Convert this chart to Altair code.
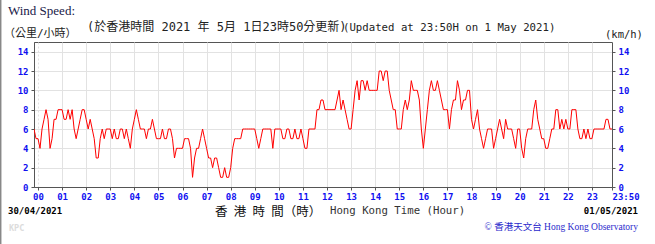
import altair as alt
import pandas as pd

# ---- data: 10-minute mean wind speed (km/h) read every 5 minutes ----
prev_day = [6, 5]  # 23:50, 23:55 on 30/04
h00 = [5, 4, 6, 7, 8, 7, 4, 5, 7, 7, 8, 8]
h01 = [8, 7, 7, 8, 7, 8, 6, 5, 6, 7, 8, 8]
h02 = [7, 6, 7, 6, 5, 3, 3, 5, 6, 5, 6, 6]
h03 = [6, 5, 6, 5, 5, 6, 6, 5, 6, 5, 4, 6]
h04 = [7, 8, 7, 6, 6, 6, 5, 6, 6, 7, 6, 5]
h05 = [5, 5, 6, 5, 5, 6, 6, 5, 3, 4, 4, 4]
h06 = [4, 5, 5, 5, 4, 1, 3, 4, 4, 5, 6, 5]
h07 = [4, 3, 3, 2, 3, 3, 2, 1, 1, 2, 1, 1]
h08 = [2, 4, 5, 5, 5, 5, 6, 6, 6, 6, 6, 6]
h09 = [6, 5, 4, 5, 6, 6, 6, 6, 6, 4, 6, 6]
h10 = [6, 6, 5, 5, 6, 6, 5, 5, 6, 5, 5, 6]
h11 = [5, 4, 4, 6, 6, 6, 6, 8, 8, 9, 9, 8]
h12 = [8, 8, 8, 8, 8, 9, 10, 8, 9, 8, 7, 6]
h13 = [6, 8, 10, 11, 9, 11, 11, 10, 11, 10, 10, 10]
h14 = [10, 10, 12, 12, 11, 12, 12, 10, 9, 8, 8, 6]
h15 = [6, 6, 8, 9, 8, 9, 11, 10, 10, 10, 9, 6]
h16 = [4, 6, 8, 10, 11, 10, 10, 11, 10, 9, 8, 8]
h17 = [8, 6, 8, 9, 9, 11, 10, 8, 9, 9, 10, 10]
h18 = [7, 6, 7, 8, 6, 5, 4, 5, 6, 6, 6, 4]
h19 = [5, 6, 7, 6, 5, 7, 6, 6, 6, 5, 4, 6]
h20 = [6, 4, 3, 5, 6, 6, 6, 8, 9, 7, 6, 5]
h21 = [5, 4, 4, 5, 6, 6, 8, 8, 6, 7, 6, 7]
h22 = [6, 6, 8, 8, 8, 6, 5, 5, 6, 5, 6, 5]
h23 = [5, 6, 6, 6, 6, 6, 6, 7, 7, 6, 6]  # up to 23:50

hour_lists = [h00, h01, h02, h03, h04, h05, h06, h07, h08, h09, h10, h11,
              h12, h13, h14, h15, h16, h17, h18, h19, h20, h21, h22, h23]
speeds = list(prev_day)
for hl in hour_lists:
    speeds += hl
minutes = list(range(-10, 1431, 5))
df = pd.DataFrame({"minute": minutes[:len(speeds)], "speed": speeds})

y_ticks = [0, 2, 4, 6, 8, 10, 12, 14]
x_ticks = [h * 60 for h in range(24)] + [1430]

title_en = "Wind Speed:"
unit_zh = "（公里/小時）"
update_zh = "(於香港時間 2021 年 5月 1日23時50分更新)"
update_en = "(Updated at 23:50H on 1 May 2021)"
unit_en = "(km/h)"
date_start = "30/04/2021"
date_end = "01/05/2021"
xtitle_zh = "香\u2002港\u2002時\u2002間（時）"
xtitle_en = "Hong Kong Time (Hour)"
credit = "© 香港天文台 Hong Kong Observatory"
initials = "KPC"

W, H = 578, 145
MONO = "DejaVu Sans Mono, Noto Sans CJK TC"
BLUE = "#1010f0"

xscale = alt.Scale(domain=[-10, 1430], nice=False, zero=False)
yscale = alt.Scale(domain=[0, 15], nice=False, zero=True)

label_expr = "datum.value >= 1430 ? '23:50' : format(datum.value / 60, '02d')"


def x_axis():
    return alt.Axis(values=x_ticks, labelExpr=label_expr, title=None, grid=True,
                    gridColor="#e2e2e2",
                    gridDash={"condition": {"test": "datum.value == 0", "value": [2, 2]}, "value": []},
                    labelAlign={"condition": {"test": "datum.value >= 1430", "value": "left"}, "value": "center"},
                    labelFont="DejaVu Sans Mono", labelFontWeight="bold", labelFontSize=9,
                    labelColor=BLUE, labelPadding=2, tickSize=3, tickColor="#555",
                    domainColor="#555", labelOverlap=False, labelFlush=False)


def y_axis(orient):
    return alt.Axis(values=y_ticks, orient=orient, title=None, grid=(orient == "left"),
                    gridColor="#e2e2e2", labelFont="DejaVu Sans Mono",
                    labelFontWeight="bold", labelFontSize=9, labelColor=BLUE,
                    labelPadding=3, tickSize=3, tickColor="#555", domainColor="#555")


line = alt.Chart(df).mark_line(color="#ff0000", strokeWidth=1, clip=True).encode(
    x=alt.X("minute:Q", scale=xscale, axis=x_axis()),
    y=alt.Y("speed:Q", scale=yscale, axis=y_axis("left")),
)
right = alt.Chart(df).mark_line(opacity=0).encode(
    x=alt.X("minute:Q", scale=xscale, axis=x_axis()),
    y=alt.Y("speed:Q", scale=yscale, axis=y_axis("right")),
)


def txt(s, x, y, size, font, color="#000", weight="normal", align="left", baseline="middle"):
    return alt.Chart(pd.DataFrame({"t": [s]})).mark_text(
        align=align, baseline=baseline, font=font, fontSize=size, fontWeight=weight,
        color=color,
    ).encode(x=alt.value(x), y=alt.value(y), text="t:N")


texts = [
    txt(title_en, -26, -27, 13, "Liberation Serif", color="#202048", baseline="alphabetic"),
    txt(unit_zh, -30, -8.5, 11, MONO, color="#222"),
    txt(update_zh, 53, -11, 12, MONO, color="#222", baseline="alphabetic"),
    txt(update_en, 309, -11, 10.7, MONO, color="#222", baseline="alphabetic"),
    txt(unit_en, 571, -7, 10.5, MONO, color="#222", baseline="middle"),
    txt(date_start, -26, 169, 9, "DejaVu Sans Mono", weight="bold"),
    txt(xtitle_zh, 181, 170, 12.5, "Noto Sans CJK TC", color="#111"),
    txt(xtitle_en, 296, 169, 10.7, "DejaVu Sans Mono", color="#333"),
    txt(date_end, 604, 169, 9, "DejaVu Sans Mono", weight="bold", align="right"),
    txt(credit, 604, 185, 9.5, "Liberation Serif, Noto Sans CJK TC", color="#2a2acc", align="right"),
    txt(initials, -25, 186, 8.5, "DejaVu Sans Mono", color="#dcdcdc", weight="bold"),
]

border = alt.Chart(pd.DataFrame({"a": [0]})).mark_rule(color="#888", strokeWidth=1.5).encode(
    x=alt.value(-33.3), y=alt.value(-42), y2=alt.value(202)
)

chart = alt.layer(line, right, border, *texts).resolve_scale(y="independent").properties(
    width=W, height=H,
    padding={"left": 34, "top": 42, "right": 43, "bottom": 57},
    autosize=alt.AutoSizeParams(type="none"),
    background="white",
).configure_view(stroke="#555", strokeWidth=1)

chart.save("out.html", embed_options={"renderer": "svg", "actions": False})
